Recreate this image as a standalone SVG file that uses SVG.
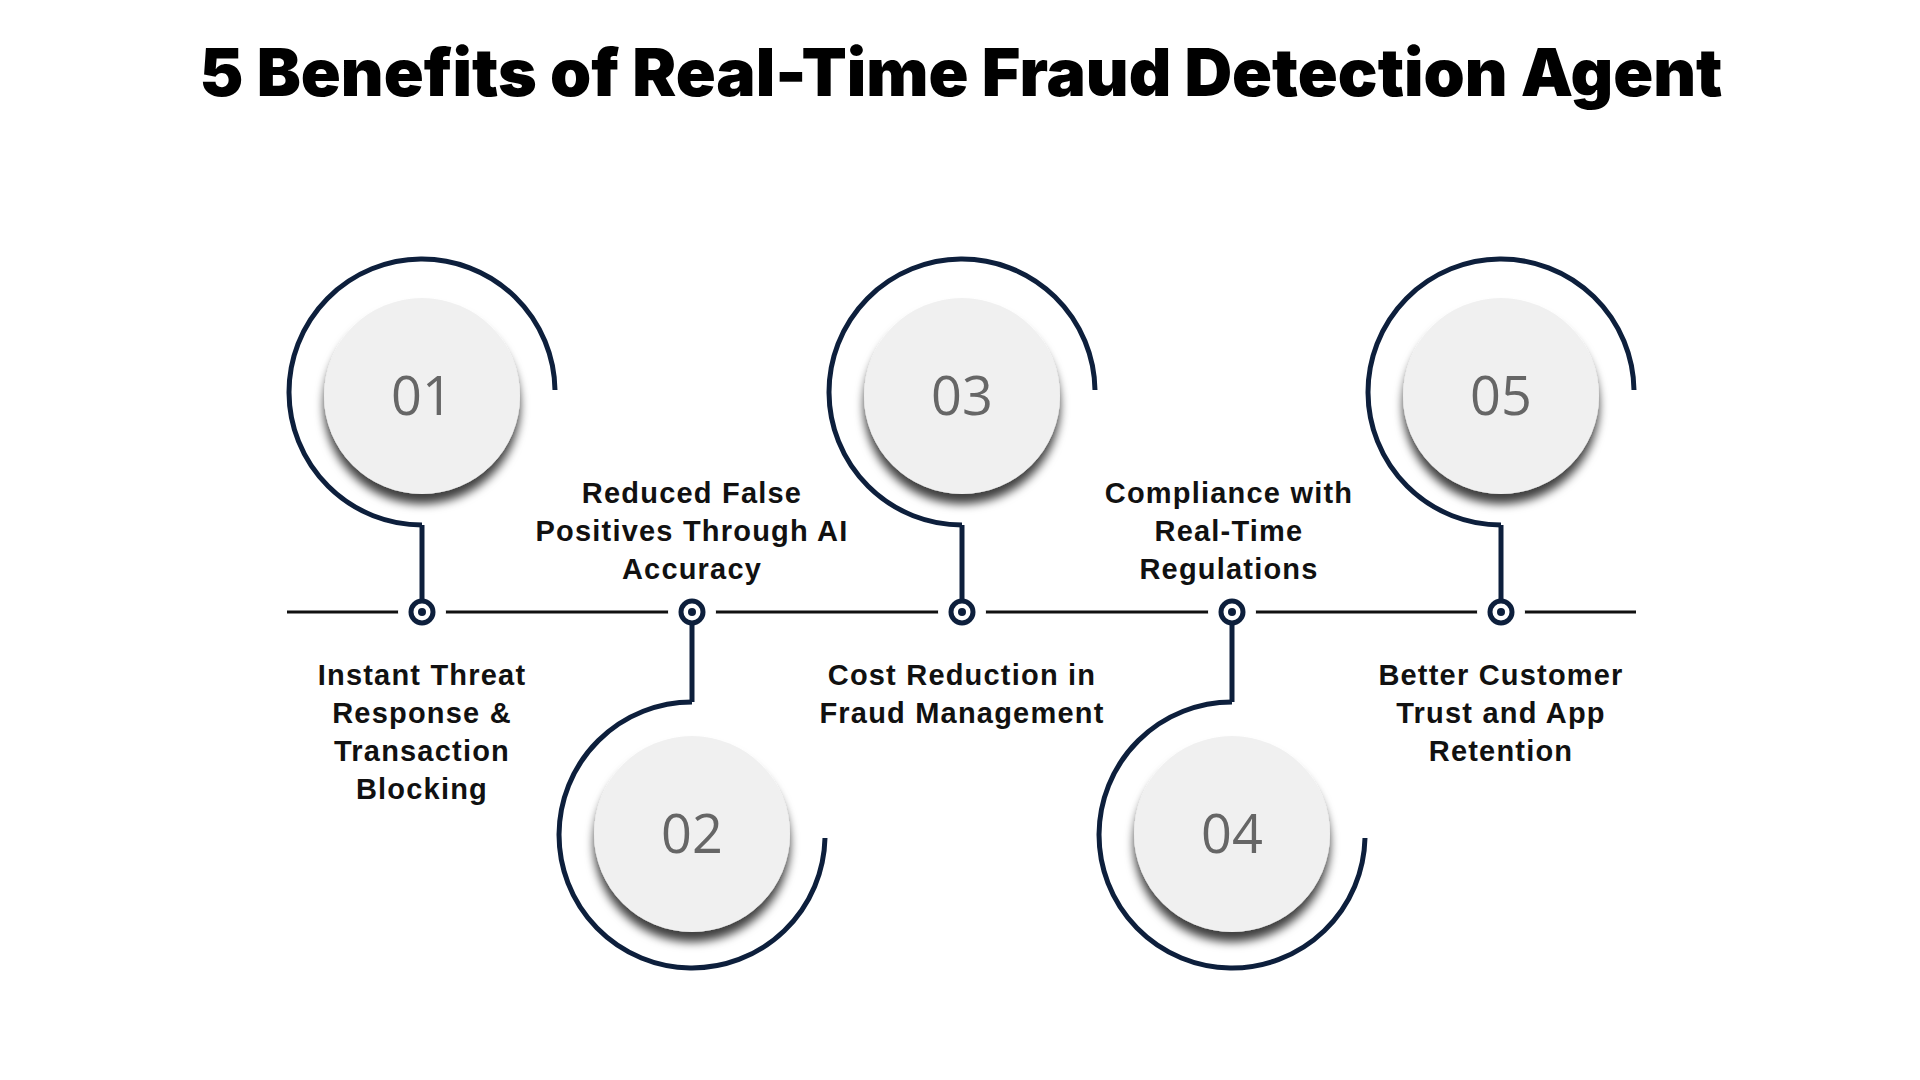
<svg xmlns="http://www.w3.org/2000/svg" width="1920" height="1080" viewBox="0 0 1920 1080">
<defs>
<filter id="sh" x="-30%" y="-30%" width="160%" height="170%"><feDropShadow dx="0" dy="10" stdDeviation="5" flood-color="#000" flood-opacity="0.75"/></filter>
<style>
.ring{fill:none;stroke:#0d1f3c;stroke-width:5}
.ln{stroke:#0d1f3c;stroke-width:5}
.tl{stroke:#111;stroke-width:3}
.gap{fill:#fff}
.dot{fill:#fff;stroke:#0d1f3c;stroke-width:5}
.dc{fill:#0d1f3c}
.disc{fill:#f0f0f0;filter:url(#sh)}
.num{font-family:"Open Sans","Liberation Sans",sans-serif;font-size:54px;font-weight:500;fill:#666;text-anchor:middle}
.lb{font-family:"Liberation Sans",Arial,sans-serif;font-weight:bold;font-size:29px;fill:#111;text-anchor:middle;letter-spacing:1.2px}
</style>
</defs>
<rect width="1920" height="1080" fill="#fff"/>
<text x="961" y="96" font-family="Inter,'Liberation Sans',sans-serif" font-weight="900" font-size="66" text-anchor="middle" fill="#000">5 Benefits of Real-Time Fraud Detection Agent</text>
<g id="connectors">
<line class="tl" x1="287" y1="612" x2="1636" y2="612"/>
<circle class="gap" cx="422" cy="612" r="24"/>
<circle class="gap" cx="692" cy="612" r="24"/>
<circle class="gap" cx="962" cy="612" r="24"/>
<circle class="gap" cx="1232" cy="612" r="24"/>
<circle class="gap" cx="1501" cy="612" r="24"/>
<line class="ln" x1="422" y1="525" x2="422" y2="600"/>
<line class="ln" x1="692" y1="624" x2="692" y2="702"/>
<line class="ln" x1="962" y1="525" x2="962" y2="600"/>
<line class="ln" x1="1232" y1="624" x2="1232" y2="702"/>
<line class="ln" x1="1501" y1="525" x2="1501" y2="600"/>
</g>
<g id="n1">
<path class="ring" d="M555,390 A133,133 0 1 0 422,525"/>
<circle class="disc" cx="422" cy="396" r="98"/>
<text class="num" x="422" y="415">01</text>
<circle class="dot" cx="422" cy="612" r="11"/><circle class="dc" cx="422" cy="612" r="4"/>
<text class="lb" x="422" y="685">Instant Threat</text>
<text class="lb" x="422" y="723">Response &amp;</text>
<text class="lb" x="422" y="761">Transaction</text>
<text class="lb" x="422" y="799">Blocking</text>
</g>
<g id="n2">
<path class="ring" d="M692,702 A133,133 0 1 0 825,838"/>
<circle class="disc" cx="692" cy="834" r="98"/>
<text class="num" x="692" y="853">02</text>
<circle class="dot" cx="692" cy="612" r="11"/><circle class="dc" cx="692" cy="612" r="4"/>
<text class="lb" x="692" y="503">Reduced False</text>
<text class="lb" x="692" y="541">Positives Through AI</text>
<text class="lb" x="692" y="579">Accuracy</text>
</g>
<g id="n3">
<path class="ring" d="M1095,390 A133,133 0 1 0 962,525"/>
<circle class="disc" cx="962" cy="396" r="98"/>
<text class="num" x="962" y="415">03</text>
<circle class="dot" cx="962" cy="612" r="11"/><circle class="dc" cx="962" cy="612" r="4"/>
<text class="lb" x="962" y="685">Cost Reduction in</text>
<text class="lb" x="962" y="723">Fraud Management</text>
</g>
<g id="n4">
<path class="ring" d="M1232,702 A133,133 0 1 0 1365,838"/>
<circle class="disc" cx="1232" cy="834" r="98"/>
<text class="num" x="1232" y="853">04</text>
<circle class="dot" cx="1232" cy="612" r="11"/><circle class="dc" cx="1232" cy="612" r="4"/>
<text class="lb" x="1229" y="503">Compliance with</text>
<text class="lb" x="1229" y="541">Real-Time</text>
<text class="lb" x="1229" y="579">Regulations</text>
</g>
<g id="n5">
<path class="ring" d="M1634,390 A133,133 0 1 0 1501,525"/>
<circle class="disc" cx="1501" cy="396" r="98"/>
<text class="num" x="1501" y="415">05</text>
<circle class="dot" cx="1501" cy="612" r="11"/><circle class="dc" cx="1501" cy="612" r="4"/>
<text class="lb" x="1501" y="685">Better Customer</text>
<text class="lb" x="1501" y="723">Trust and App</text>
<text class="lb" x="1501" y="761">Retention</text>
</g>
</svg>
